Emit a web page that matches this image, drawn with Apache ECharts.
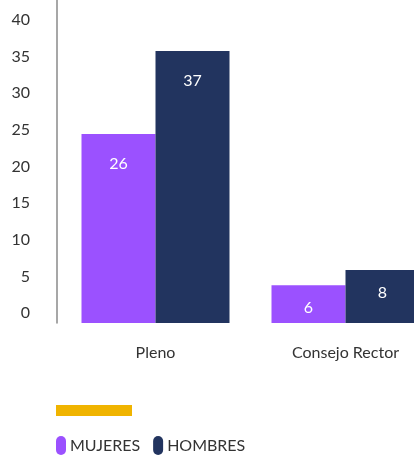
<!DOCTYPE html>
<html><head><meta charset="utf-8">
<script src="https://cdn.jsdelivr.net/npm/echarts@6/dist/echarts.min.js"></script>
<style>html,body{margin:0;padding:0;background:#fff}#c{width:414px;height:455px}</style>
</head><body><div id="c"></div>
<script>
const categories = ["Pleno", "Consejo Rector"];
const mujeres = [26, 6];
const hombres = [37, 8];
const seriesNames = ["MUJERES", "HOMBRES"];
const tickMin = 0, tickMax = 40, tickStep = 5;

const FONT = "Lato";
const PILL = 'path://M5,0 A5,5 0 0 1 10,5 L10,14 A5,5 0 0 1 0,14 L0,5 A5,5 0 0 1 5,0 Z';
const chart = echarts.init(document.getElementById('c'), null, {renderer: 'canvas'});
function items(arr) {
  return arr.map((v, i) => ({value: v, label: {distance: i === 0 ? 21.5 : 15}}));
}
chart.setOption({
  animation: false,
  textStyle: {fontFamily: FONT},
  grid: [
    {left: 60.5, top: 0, width: 380, height: 323, outerBoundsMode: 'none', containLabel: false},
    {left: 57, top: 20, width: 1, height: 293, outerBoundsMode: 'none', containLabel: false}
  ],
  xAxis: [
    {type: 'category', gridIndex: 0, data: categories,
     axisLine: {show: false}, axisTick: {show: false},
     axisLabel: {margin: 22, fontSize: 16, color: '#333', fontFamily: FONT}},
    {type: 'category', gridIndex: 1, data: [''], show: false}
  ],
  yAxis: [
    {type: 'value', gridIndex: 0, min: 1, max: 43.75, offset: 3.5,
     axisLine: {show: true, lineStyle: {color: '#8a8a8a', width: 1.5}},
     axisTick: {show: false}, axisLabel: {show: false}, splitLine: {show: false}},
    {type: 'value', gridIndex: 1, min: tickMin, max: tickMax, interval: tickStep,
     axisLine: {show: false}, axisTick: {show: false}, splitLine: {show: false},
     axisLabel: {margin: 27, fontSize: 16, color: '#333', fontFamily: FONT}}
  ],
  legend: {
    left: 56, top: 436, padding: 0, itemWidth: 10, itemHeight: 19, itemGap: 13,
    icon: PILL,
    data: seriesNames,
    textStyle: {fontSize: 16, color: '#333', fontFamily: FONT, padding: [0, 0, 0, -1]}
  },
  graphic: [
    {type: 'rect', left: 56, top: 405, shape: {width: 76, height: 11}, style: {fill: '#f0b400'}}
  ],
  series: [
    {name: seriesNames[0], type: 'bar', xAxisIndex: 0, yAxisIndex: 0, data: items(mujeres),
     barWidth: 74, barGap: '0%', itemStyle: {color: '#9b51ff'},
     label: {show: true, position: 'insideTop', color: '#fff', fontSize: 16, fontFamily: FONT}},
    {name: seriesNames[1], type: 'bar', xAxisIndex: 0, yAxisIndex: 0, data: items(hombres),
     barWidth: 74, barGap: '0%', itemStyle: {color: '#22345f'},
     label: {show: true, position: 'insideTop', color: '#fff', fontSize: 16, fontFamily: FONT}}
  ]
});
</script></body></html>
